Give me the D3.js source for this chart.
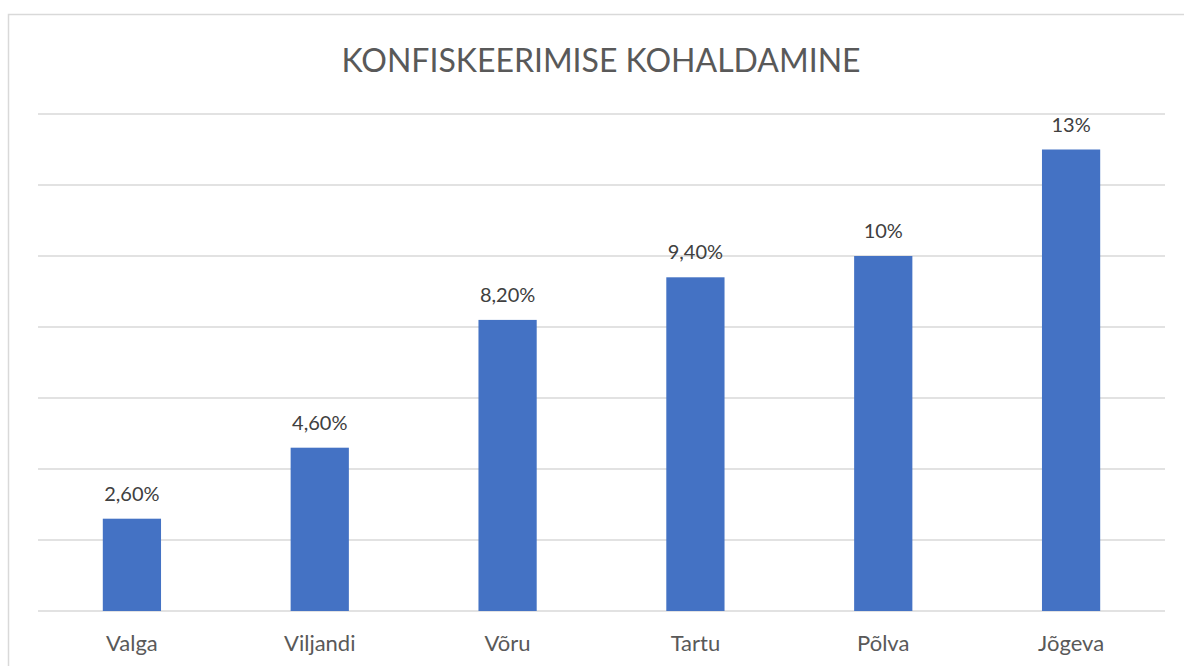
<!DOCTYPE html>
<html>
<head>
<meta charset="utf-8">
<script src="https://cdn.jsdelivr.net/npm/d3@7"></script>
<style>
  body { margin: 0; background: #fff; }
  text { font-family: Lato, "Open Sans", sans-serif; }
</style>
</head>
<body>
<div id="chart"></div>
<script>
// Andmed
const counties = ["Valga", "Viljandi", "Võru", "Tartu", "Põlva", "Jõgeva"];
const values = [2.6, 4.6, 8.2, 9.4, 10, 13];
const valueLabels = ["2,60%", "4,60%", "8,20%", "9,40%", "10%", "13%"];
const gridTicks = [0, 2, 4, 6, 8, 10, 12, 14];

const width = 1184;
const height = 666;
const plotLeft = 38;
const plotRight = 1165;
const plotTop = 114;
const plotBottom = 611;

const svg = d3.select("#chart").append("svg")
    .attr("width", width)
    .attr("height", height);

// Raam ümber diagrammi
svg.append("rect")
    .attr("x", 8.5)
    .attr("y", 14.5)
    .attr("width", 1200)
    .attr("height", 700)
    .attr("fill", "#fff")
    .attr("stroke", "#d9d9d9")
    .attr("stroke-width", 1.5);

const xScale = d3.scaleBand()
    .domain(counties)
    .range([plotLeft, plotRight])
    .paddingInner(0.69)
    .paddingOuter(0.345);

const yScale = d3.scaleLinear()
    .domain([0, 14])
    .range([plotBottom, plotTop]);

// Horisontaalsed jooned
svg.selectAll(".grid")
    .data(gridTicks)
    .enter()
    .append("line")
    .attr("class", "grid")
    .attr("x1", plotLeft)
    .attr("x2", plotRight)
    .attr("y1", d => yScale(d))
    .attr("y2", d => yScale(d))
    .attr("stroke", "#d9d9d9")
    .attr("stroke-width", 1.5);

// Tulbad
svg.selectAll(".bar")
    .data(values)
    .enter()
    .append("rect")
    .attr("class", "bar")
    .attr("x", (d, i) => xScale(counties[i]))
    .attr("y", d => yScale(d))
    .attr("width", xScale.bandwidth())
    .attr("height", d => plotBottom - yScale(d))
    .attr("fill", "#4472c4");

// Väärtused tulpade kohal
svg.selectAll(".value")
    .data(values)
    .enter()
    .append("text")
    .attr("class", "value")
    .attr("x", (d, i) => xScale(counties[i]) + xScale.bandwidth() / 2)
    .attr("y", d => yScale(d) - 18)
    .attr("text-anchor", "middle")
    .style("fill", "#404040")
    .style("font-size", "20px")
    .text((d, i) => valueLabels[i]);

// Telje sildid
svg.selectAll(".cat")
    .data(counties)
    .enter()
    .append("text")
    .attr("class", "cat")
    .attr("x", d => xScale(d) + xScale.bandwidth() / 2)
    .attr("y", 651)
    .attr("text-anchor", "middle")
    .style("fill", "#595959")
    .style("font-size", "22px")
    .text(d => d);

// Pealkiri
svg.append("text")
    .attr("x", 601)
    .attr("y", 72)
    .attr("text-anchor", "middle")
    .style("fill", "#595959")
    .style("font-size", "32px")
    .text("KONFISKEERIMISE KOHALDAMINE");
</script>
</body>
</html>
